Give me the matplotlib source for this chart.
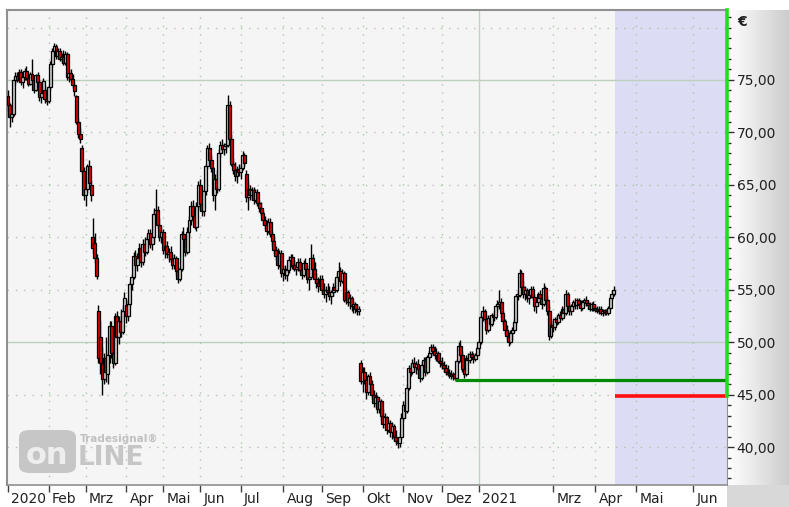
import numpy as np
import matplotlib
matplotlib.use("Agg")
import matplotlib.pyplot as plt
from matplotlib.patches import FancyBboxPatch, Rectangle
from matplotlib import transforms

# daily candles, Jan 2020 .. mid Apr 2021 (one line per month)
opens = [
    73.5, 72.6, 71.5, 71.8, 75.0, 75.4, 75.0, 75.8, 74.8, 75.3, 75.9, 75.2, 74.6, 75.6, 75.0, 74.0, 75.5, 74.8, 73.4, 73.8, 74.0, 73.2,
    73.0, 74.3, 76.5, 77.8, 78.2, 77.3, 77.8, 77.0, 77.2, 76.6, 77.5, 75.3, 75.7, 75.1, 74.5, 73.5, 71.0, 69.8, 68.5, 66.3,
    64.0, 64.6, 66.8, 65.0, 60.0, 59.5, 58.0, 53.0, 50.5, 48.0, 46.5, 48.5, 47.0, 48.8, 51.5, 49.0, 48.0, 52.5, 50.5, 52.0, 51.0, 53.0,
    53.5, 52.5, 53.6, 55.5, 56.2, 58.2, 57.4, 58.0, 59.0, 57.6, 59.4, 58.6, 59.8, 60.4, 59.4, 60.0, 62.2, 62.6, 61.2, 60.0,
    60.5, 58.8, 59.2, 58.4, 58.6, 57.9, 57.4, 58.0, 56.8, 56.0, 57.0, 60.3, 59.8, 58.6, 60.5, 61.6, 63.0, 62.0, 61.0, 63.0,
    65.0, 63.2, 62.5, 64.4, 66.8, 68.5, 67.4, 66.6, 64.0, 65.6, 64.6, 68.0, 68.8, 68.4, 68.7, 68.8, 72.6, 69.4, 67.0, 66.4, 65.8, 66.5,
    66.2, 66.6, 67.8, 66.0, 63.8, 64.6, 64.0, 64.5, 63.6, 64.3, 63.3, 62.8, 62.3, 61.6, 61.2, 60.6, 61.5, 60.3, 59.6, 58.8, 58.2, 57.4, 58.5,
    56.6, 57.0, 56.4, 56.9, 57.8, 58.1, 57.4, 57.0, 57.2, 57.6, 56.9, 56.4, 57.5, 57.0, 56.0, 56.2, 58.0, 57.0, 56.0, 55.6, 55.4,
    56.0, 55.0, 54.6, 55.0, 54.8, 54.4, 54.8, 55.3, 55.0, 56.2, 56.8, 55.8, 56.6, 54.0, 54.8, 53.8, 54.2, 53.4, 53.6, 53.2, 53.0, 48.0,
    46.3, 47.2, 46.4, 45.2, 46.8, 46.0, 45.0, 44.2, 44.8, 43.6, 44.4, 43.0, 42.2, 42.9, 41.6, 42.3, 41.4, 42.0, 41.0, 40.6, 40.4, 41.0,
    42.8, 44.0, 43.4, 45.6, 47.5, 47.2, 48.0, 47.6, 47.9, 47.4, 46.6, 47.8, 48.3, 47.2, 48.6, 49.0, 49.5, 49.2, 48.8, 49.0, 48.2,
    48.0, 47.8, 47.5, 47.2, 47.0, 46.9, 46.8, 47.0, 46.6, 48.2, 49.6, 48.8, 47.4, 47.0, 48.5, 48.3, 48.9, 48.6, 48.4, 48.8,
    49.4, 50.0, 52.4, 53.0, 52.2, 51.2, 52.3, 51.7, 52.6, 52.4, 53.4, 53.6, 53.8, 52.8, 52.0, 51.2, 50.6, 50.0, 50.9, 51.2,
    51.9, 54.4, 54.5, 56.6, 55.3, 54.6, 55.0, 54.2, 54.5, 55.1, 54.3, 53.4, 53.8, 54.6, 54.2, 53.6, 55.2, 54.0, 53.0, 50.6,
    51.6, 51.4, 52.2, 51.9, 52.6, 52.3, 53.2, 52.8, 54.6, 53.4, 53.0, 53.4, 53.8, 53.5, 54.0, 53.6, 53.3, 53.8, 54.0, 53.7, 53.5, 53.2, 53.6,
    53.3, 53.1, 53.0, 53.2, 52.8, 53.0, 52.9, 52.8, 53.3, 54.2, 54.6,
]
highs = [
    74.0, 72.8, 72.2, 75.2, 75.8, 75.8, 76.0, 76.0, 75.5, 76.1, 76.3, 75.6, 75.8, 77.0, 75.4, 75.6, 75.8, 75.0, 74.0, 75.2, 74.5, 73.8,
    74.5, 76.8, 78.0, 78.5, 78.4, 78.0, 78.0, 77.6, 77.9, 77.8, 77.7, 76.0, 76.0, 75.6, 74.8, 73.6, 71.4, 70.4, 68.8, 66.7,
    65.0, 67.0, 67.4, 65.5, 61.8, 60.4, 58.4, 53.5, 52.0, 49.5, 49.0, 50.5, 49.0, 52.0, 52.0, 50.2, 52.8, 53.0, 52.5, 53.2, 53.5, 54.8,
    54.0, 54.0, 55.8, 56.5, 58.6, 58.8, 58.5, 59.5, 59.4, 59.8, 60.0, 60.2, 60.8, 60.8, 60.4, 62.8, 64.6, 63.0, 61.8, 61.0,
    60.8, 59.6, 59.6, 59.0, 59.2, 58.4, 58.4, 58.2, 57.2, 57.2, 60.6, 61.0, 60.2, 61.0, 62.0, 63.5, 63.6, 62.4, 63.4, 65.4,
    65.6, 64.0, 64.6, 67.0, 68.8, 69.0, 67.8, 66.8, 66.0, 66.4, 68.4, 69.2, 69.4, 69.0, 69.0, 73.6, 73.0, 69.8, 67.6, 67.2, 66.8, 67.0,
    67.0, 68.2, 68.0, 66.4, 65.4, 65.0, 64.8, 64.8, 64.6, 64.6, 63.6, 63.4, 62.6, 62.0, 61.6, 61.8, 61.8, 60.6, 60.0, 59.2, 59.0, 58.8, 58.8,
    57.4, 57.4, 57.2, 58.2, 58.4, 58.4, 57.8, 57.6, 58.0, 58.0, 57.4, 57.8, 58.0, 57.4, 56.6, 59.4, 58.4, 57.6, 56.6, 56.2, 56.4,
    56.4, 55.6, 55.4, 55.6, 55.4, 55.0, 55.6, 56.0, 56.6, 57.6, 57.2, 57.0, 56.8, 55.2, 55.0, 54.6, 54.4, 54.0, 53.8, 53.6, 53.4, 48.3,
    47.6, 47.6, 47.0, 47.0, 47.2, 46.4, 45.4, 45.2, 45.0, 44.8, 44.6, 43.6, 43.2, 43.0, 42.6, 42.6, 42.4, 42.2, 41.6, 41.0, 41.4, 43.2,
    44.4, 44.4, 46.0, 47.8, 48.0, 48.4, 48.6, 48.2, 48.4, 47.8, 48.2, 48.6, 48.6, 48.8, 49.2, 49.8, 49.8, 49.6, 49.4, 49.2, 48.6,
    48.6, 48.2, 47.9, 47.8, 47.4, 47.3, 47.2, 47.1, 48.4, 50.0, 50.2, 49.2, 48.0, 48.8, 49.0, 49.2, 49.2, 49.0, 49.0, 49.6,
    50.2, 52.8, 53.4, 53.2, 52.6, 52.6, 52.6, 52.8, 53.0, 53.6, 54.0, 55.0, 54.2, 53.0, 52.2, 51.6, 51.0, 51.2, 51.4, 52.2,
    54.6, 55.0, 57.0, 56.9, 55.8, 55.4, 55.2, 54.8, 55.4, 55.4, 54.6, 54.2, 54.8, 55.0, 54.6, 55.6, 55.4, 54.4, 53.4, 52.0,
    52.2, 52.4, 52.6, 52.8, 53.0, 53.4, 53.4, 55.0, 54.8, 53.8, 53.6, 54.0, 54.2, 54.2, 54.2, 54.0, 54.0, 54.2, 54.4, 54.0, 53.8, 53.8, 53.9,
    53.6, 53.4, 53.4, 53.4, 53.2, 53.2, 53.2, 53.4, 54.4, 55.0, 55.4,
]
lows = [
    72.0, 70.5, 71.0, 71.6, 74.6, 74.8, 74.8, 74.5, 74.2, 75.0, 75.0, 74.4, 74.5, 74.8, 73.8, 73.9, 74.6, 73.0, 72.8, 73.6, 72.8, 72.6,
    72.8, 74.0, 76.2, 77.5, 77.0, 77.0, 76.8, 76.6, 76.4, 76.4, 75.0, 74.8, 74.9, 74.2, 73.5, 70.8, 69.5, 69.0, 66.0, 63.6,
    63.0, 64.2, 64.8, 63.5, 58.5, 57.5, 56.0, 48.0, 47.0, 45.0, 46.0, 46.2, 46.0, 48.0, 48.5, 47.5, 47.8, 50.0, 49.8, 50.5, 50.8, 52.6,
    51.8, 52.0, 53.4, 55.0, 56.0, 57.0, 56.8, 57.5, 57.2, 57.4, 58.2, 58.4, 59.2, 59.0, 58.8, 59.5, 61.8, 60.8, 59.6, 59.5,
    58.4, 58.0, 58.0, 57.6, 57.6, 57.0, 57.0, 56.4, 55.6, 55.8, 56.8, 59.4, 58.2, 58.4, 60.0, 61.2, 61.5, 60.8, 60.6, 62.8,
    62.6, 62.0, 62.0, 64.0, 66.5, 67.0, 66.2, 63.5, 62.6, 64.2, 64.4, 67.6, 68.0, 67.8, 68.0, 68.6, 69.0, 66.8, 66.0, 65.4, 65.2, 65.8,
    65.6, 66.4, 66.8, 63.4, 62.6, 63.6, 63.6, 63.2, 63.4, 63.0, 62.4, 62.0, 61.2, 60.8, 60.2, 60.4, 60.0, 59.2, 58.4, 57.8, 57.0, 57.2, 56.2,
    55.8, 56.0, 55.8, 56.6, 57.2, 57.0, 56.8, 56.4, 56.8, 56.6, 56.0, 56.2, 56.8, 55.6, 55.0, 56.0, 56.6, 55.6, 55.2, 54.8, 55.0,
    54.6, 54.2, 53.8, 54.4, 54.0, 53.6, 54.4, 54.8, 54.8, 55.8, 55.4, 55.6, 53.8, 53.6, 53.4, 53.2, 53.0, 52.8, 52.8, 52.6, 52.6, 46.0,
    45.2, 46.0, 44.6, 45.0, 45.6, 44.6, 43.8, 43.8, 43.2, 43.2, 42.6, 41.8, 41.8, 41.2, 41.4, 41.0, 40.8, 40.6, 40.2, 39.9, 40.0, 40.8,
    42.5, 42.8, 43.2, 45.4, 46.8, 47.0, 47.2, 47.0, 47.0, 46.2, 46.4, 47.4, 46.8, 47.0, 48.2, 48.6, 48.8, 48.4, 48.2, 48.0, 47.6,
    47.4, 47.2, 46.9, 46.8, 46.6, 46.5, 46.4, 46.4, 46.5, 48.0, 48.4, 47.2, 46.6, 46.8, 48.0, 48.0, 48.4, 48.0, 48.2, 48.6,
    49.0, 49.8, 52.0, 51.8, 50.8, 51.0, 51.4, 51.5, 52.0, 52.2, 53.0, 53.2, 52.4, 51.6, 50.8, 50.2, 49.6, 49.8, 50.2, 51.0,
    51.6, 54.0, 54.3, 55.0, 54.2, 54.0, 53.8, 53.6, 54.2, 54.0, 53.0, 52.8, 53.4, 54.0, 53.2, 53.4, 53.8, 52.6, 50.2, 50.4,
    51.0, 51.2, 51.6, 51.7, 52.0, 52.1, 52.4, 52.6, 53.0, 52.6, 52.6, 53.0, 53.2, 53.2, 53.4, 53.0, 53.1, 53.4, 53.4, 53.2, 53.0, 53.0, 53.0,
    52.9, 52.8, 52.7, 52.6, 52.5, 52.6, 52.6, 52.6, 53.1, 54.0, 54.4,
]
closes = [
    72.6, 71.5, 71.8, 75.0, 75.4, 75.0, 75.8, 74.8, 75.3, 75.9, 75.2, 74.6, 75.6, 75.0, 74.0, 75.5, 74.8, 73.4, 73.8, 74.9, 73.2, 73.0,
    74.3, 76.5, 77.8, 78.2, 77.3, 77.8, 77.0, 77.2, 76.6, 77.5, 75.3, 75.7, 75.1, 74.5, 73.9, 71.0, 69.8, 69.4, 66.3, 64.0,
    64.6, 66.8, 65.2, 64.0, 59.0, 58.0, 56.3, 48.5, 48.0, 46.5, 48.5, 47.2, 48.8, 51.5, 49.0, 48.0, 52.5, 50.5, 52.0, 51.0, 53.0, 54.2,
    52.5, 53.6, 55.5, 56.2, 58.2, 57.4, 58.0, 59.0, 57.6, 59.4, 58.6, 59.8, 60.4, 59.4, 60.0, 62.2, 62.6, 61.2, 60.0, 60.5,
    58.8, 59.2, 58.4, 58.6, 57.9, 57.4, 58.0, 56.8, 56.0, 57.0, 60.3, 59.8, 58.6, 60.5, 61.6, 63.0, 62.0, 61.0, 63.0, 65.0,
    63.2, 62.5, 64.4, 66.8, 68.5, 67.4, 66.6, 64.0, 65.6, 64.6, 68.0, 68.8, 68.4, 68.7, 68.8, 72.6, 69.4, 67.0, 66.4, 65.8, 66.5, 66.2,
    66.6, 67.8, 67.1, 63.8, 64.6, 64.0, 64.5, 63.6, 64.3, 63.3, 62.8, 62.3, 61.6, 61.2, 60.6, 61.5, 60.3, 59.6, 58.8, 58.2, 57.4, 58.5, 56.6,
    57.0, 56.4, 56.9, 57.8, 58.1, 57.4, 57.0, 57.2, 57.6, 56.9, 56.4, 57.5, 57.0, 56.0, 56.2, 58.0, 57.0, 56.0, 55.6, 55.4, 56.0,
    55.0, 54.6, 55.0, 54.8, 54.4, 54.8, 55.3, 55.0, 56.2, 56.8, 55.8, 56.6, 54.0, 54.8, 53.8, 54.2, 53.4, 53.6, 53.2, 53.0, 53.2, 46.3,
    47.2, 46.4, 45.2, 46.8, 46.0, 45.0, 44.2, 44.8, 43.6, 44.4, 43.0, 42.2, 42.9, 41.6, 42.3, 41.4, 42.0, 41.0, 40.6, 40.4, 41.0, 42.8,
    44.0, 43.4, 45.6, 47.5, 47.2, 48.0, 47.6, 47.9, 47.4, 46.6, 47.8, 48.3, 47.2, 48.6, 49.0, 49.5, 49.2, 48.8, 49.0, 48.2, 48.0,
    47.8, 47.5, 47.2, 47.0, 46.9, 46.8, 47.0, 46.6, 48.2, 49.6, 48.8, 47.4, 47.0, 48.5, 48.3, 48.9, 48.6, 48.4, 48.8, 49.4,
    50.0, 52.4, 53.0, 52.2, 51.2, 52.3, 51.7, 52.6, 52.4, 53.4, 53.6, 53.8, 52.8, 52.0, 51.2, 50.6, 50.0, 50.9, 51.2, 51.9,
    54.4, 54.5, 56.6, 55.3, 54.6, 55.0, 54.2, 54.5, 55.1, 54.3, 53.4, 53.8, 54.6, 54.2, 53.6, 55.2, 54.0, 53.0, 50.6, 51.6,
    51.4, 52.2, 51.9, 52.6, 52.3, 53.2, 52.8, 54.6, 53.4, 53.0, 53.4, 53.8, 53.5, 54.0, 53.6, 53.3, 53.8, 54.0, 53.7, 53.5, 53.2, 53.6, 53.3,
    53.1, 53.0, 53.2, 52.8, 53.0, 52.9, 52.8, 53.3, 54.2, 54.6, 55.0,
]

# month ticks as trading-day index (last two are in the empty future area)
month_pos = [0, 22, 42, 64, 84, 104, 126, 149, 170, 192, 214, 235, 255, 295, 318, 340, 371]
month_labels = ["2020", "Feb", "Mrz", "Apr", "Mai", "Jun", "Jul", "Aug", "Sep", "Okt",
                "Nov", "Dez", "2021", "Mrz", "Apr", "Mai", "Jun"]
year_pos = 255
price_ticks = [40, 45, 50, 55, 60, 65, 70, 75]
solid_levels = [50, 75]
dotted_levels = [40, 45, 55, 60, 65, 70, 80]

support_level = 46.4      # dark green line
support_start = 242
stop_level = 44.9         # red line
future_start = 328.6      # shaded area

x_min, x_max = -0.54, 389.3
y_min, y_max = 36.38, 81.67

assert len(opens) == len(highs) == len(lows) == len(closes)

W, H = 789, 507


def fx(px):
    return px / W


def fy(py):
    return 1 - py / H


fig = plt.figure(figsize=(W / 100, H / 100), dpi=100)
fig.patch.set_facecolor("white")

# grey gradient behind the price scale
bg = fig.add_axes([fx(727), fy(485), fx(789) - fx(727), fy(10) - fy(485)], zorder=0)
grad = np.linspace(1.0, 0.80, 64).reshape(1, -1)
bg.imshow(grad, cmap="gray", vmin=0, vmax=1, aspect="auto", extent=(0, 1, 0, 1))
bg.axis("off")
fig.patches.append(Rectangle((fx(727), 0), 1 - fx(727), fy(485), transform=fig.transFigure,
                             facecolor="#d8d8d8", edgecolor="none", zorder=0))

ax = fig.add_axes([fx(7), fy(485), fx(727) - fx(7), fy(10) - fy(485)], zorder=2)
ax.set_facecolor("#f5f5f5")
ax.set_xlim(x_min, x_max)
ax.set_ylim(y_min, y_max)

# future area
ax.axvspan(future_start, x_max, color="#dcdcf4", zorder=0, lw=0)

# grid
dot = (0, (1, 5))
for lv in dotted_levels:
    ax.axhline(lv, color="#a8c8a8", lw=1, ls=dot, zorder=1)
for lv in solid_levels:
    ax.axhline(lv, color="#bcd0bc", lw=1, zorder=1)
for p in month_pos[1:]:
    if p == year_pos:
        ax.axvline(p, color="#c0d4c0", lw=1, zorder=1)
    else:
        ax.axvline(p, color="#a8c8a8", lw=1, ls=dot, zorder=1)

# candles
o = np.array(opens)
h = np.array(highs)
l = np.array(lows)
c = np.array(closes)
x = np.arange(len(c))
up = c >= o
ax.vlines(x, l, h, color="black", lw=1.0, zorder=3)
body_bottom = np.minimum(o, c)
body_height = np.maximum(np.abs(c - o), 0.15)
ax.bar(x, body_height, bottom=body_bottom, width=1.6,
       color=np.where(up, "#c8c8c8", "#e00000"), edgecolor="black", linewidth=0.9, zorder=4)

# support / stop lines
ax.plot([support_start, x_max], [support_level, support_level], color="#008a00", lw=2.3,
        zorder=5, solid_capstyle="butt")
ax.plot([future_start, x_max], [stop_level, stop_level], color="#ff1010", lw=2.6,
        zorder=5, solid_capstyle="butt")
ax.plot([x_max, x_max], [stop_level, y_max], color="#22dd22", lw=2.6, zorder=6, clip_on=False)

# spines
for side in ["left", "top", "bottom", "right"]:
    ax.spines[side].set_color("#909090")
ax.spines["left"].set_linewidth(1.5)
ax.spines["top"].set_linewidth(1.5)
ax.spines["bottom"].set_linewidth(1.2)

# price scale on the right
ax.yaxis.tick_right()
ax.set_yticks(price_ticks)
ax.set_yticklabels([f"{v:.2f}".replace(".", ",") for v in price_ticks],
                   fontsize=10, color="#202020")
ax.set_yticks(np.arange(37, 82, 1), minor=True)
ax.tick_params(axis="y", which="major", direction="out", length=5, width=1, color="#303030", pad=2)
ax.tick_params(axis="y", which="minor", direction="out", length=3, width=1, color="#303030")
ax.text(1 + 10 / 720, 1 - 12 / 475, "€", transform=ax.transAxes, fontsize=10,
        fontweight="bold", color="#202020", va="center", ha="left")

# time axis
ax.set_xticks(month_pos)
ax.set_xticklabels([])
ax.tick_params(axis="x", direction="out", length=5, width=1, color="#404040")
lab_tr = transforms.offset_copy(ax.get_xaxis_transform(), fig=fig, x=2.5, y=-5, units="points")
for p, lab in zip(month_pos, month_labels):
    ax.text(p, 0, lab, transform=lab_tr, fontsize=10, color="#202020", ha="left", va="top")

# watermark
ax.add_patch(FancyBboxPatch((fx(19), fy(473)), fx(76) - fx(19), fy(430) - fy(473),
                            boxstyle="round,pad=0,rounding_size=0.014",
                            transform=fig.transFigure, facecolor="#c6c6c6",
                            edgecolor="none", zorder=2))
fig.text(fx(47), fy(456), "on", fontsize=22, fontweight="bold", color="#eeeeee",
         ha="center", va="center", zorder=3, family="DejaVu Sans")
fig.text(fx(78), fy(458), "LINE", fontsize=19, fontweight="bold", color="#c6c6c6",
         ha="left", va="center", zorder=3, family="DejaVu Sans")
fig.text(fx(80), fy(439), "Tradesignal®", fontsize=7.5, fontweight="bold", color="#c0c0c0",
         ha="left", va="center", zorder=3)

fig.savefig("out.png", dpi=100, facecolor=fig.get_facecolor())
